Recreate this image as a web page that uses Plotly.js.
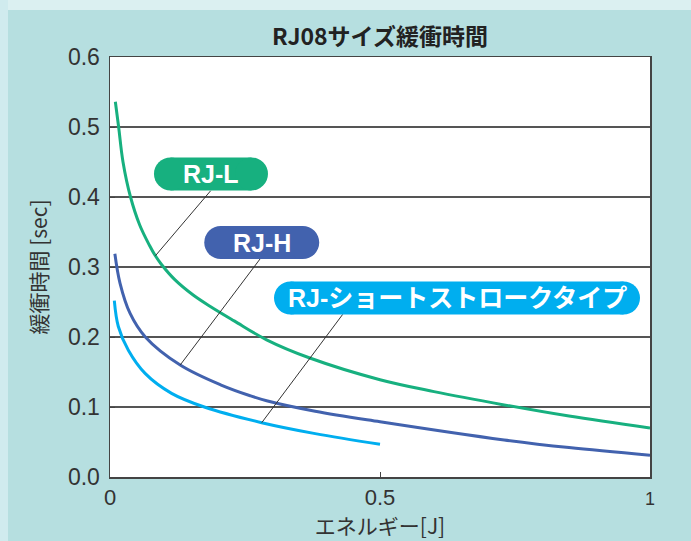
<!DOCTYPE html>
<html>
<head>
<meta charset="utf-8">
<script src="https://cdn.plot.ly/plotly-3.0.1.min.js"></script>
<style>
  html, body { margin: 0; padding: 0; background: #b8e0e1; }
  #chart { width: 691px; height: 541px; }
</style>
</head>
<body>
<div id="chart"></div>
<script>
// ---- data ----
const energyL = [0.0099, 0.016, 0.024, 0.038, 0.055, 0.073, 0.084, 0.095, 0.120, 0.154, 0.185, 0.23, 0.29, 0.37, 0.5, 0.6, 0.73, 0.85, 1.0];
const timeL   = [0.536, 0.500, 0.4505, 0.400, 0.360, 0.331, 0.316, 0.304, 0.282, 0.260, 0.244, 0.223, 0.196, 0.170, 0.139, 0.122, 0.103, 0.087, 0.070];

const energyH = [0.009, 0.0185, 0.037, 0.065, 0.13, 0.207, 0.26, 0.29, 0.38, 0.5, 0.73, 0.85, 1.0];
const timeH   = [0.319, 0.277, 0.234, 0.2005, 0.160, 0.131, 0.116, 0.109, 0.094, 0.079, 0.053, 0.042, 0.031];

const energyS = [0.008, 0.0154, 0.034, 0.065, 0.114, 0.176, 0.281, 0.38, 0.5];
const timeS   = [0.252, 0.215, 0.181, 0.148, 0.1195, 0.0996, 0.0776, 0.062, 0.0467];

const seriesNames = ['RJ-L', 'RJ-H', 'RJ-ショートストロークタイプ'];
const seriesColors = ['#17b07f', '#4262ae', '#00aeef'];

const xTickVals = [0, 0.5, 1];
const xTickText = ['0', '0.5', '<span style="font-size:18px">1</span>'];

const chartTitle = 'RJ08サイズ緩衝時間';
const xTitle = 'エネルギー[J]';
const yTitle = '緩衝時間 [sec]';

// label placement (data coords of the pill center, leader tail) and leader target index
const labelPos = [
  {x: 0.187, y: 0.433, w: 114, tailX: 0.1865, tailY: 0.409, idx: 6},
  {x: 0.281, y: 0.335, w: 115, tailX: 0.2778, tailY: 0.3114, idx: 4},
  {x: 0.6426, y: 0.2557, w: 366, tailX: 0.431, tailY: 0.2324, idx: 6}
];
const seriesX = [energyL, energyH, energyS];
const seriesY = [timeL, timeH, timeS];

const traces = seriesX.map((xs, i) => ({
  type: 'scatter', mode: 'lines', x: xs, y: seriesY[i], name: seriesNames[i],
  line: {color: seriesColors[i], width: 3, shape: 'spline', smoothing: 1},
  hoverinfo: 'skip'
}));

const shapes = [];
const annotations = [];
const R = 16.5;
labelPos.forEach((p, i) => {
  const c = seriesColors[i];
  shapes.push({type: 'line', xref: 'x', yref: 'y', x0: seriesX[i][p.idx], y0: seriesY[i][p.idx],
               x1: p.tailX, y1: p.tailY, line: {color: '#333', width: 1}, layer: 'above'});
  const half = p.w / 2;
  shapes.push({type: 'rect', xref: 'x', yref: 'y', xsizemode: 'pixel', ysizemode: 'pixel',
               xanchor: p.x, yanchor: p.y, x0: -half + R, x1: half - R, y0: -R, y1: R,
               fillcolor: c, line: {width: 0}, layer: 'above'});
  shapes.push({type: 'circle', xref: 'x', yref: 'y', xsizemode: 'pixel', ysizemode: 'pixel',
               xanchor: p.x, yanchor: p.y, x0: -half, x1: -half + 2 * R, y0: -R, y1: R,
               fillcolor: c, line: {width: 0}, layer: 'above'});
  shapes.push({type: 'circle', xref: 'x', yref: 'y', xsizemode: 'pixel', ysizemode: 'pixel',
               xanchor: p.x, yanchor: p.y, x0: half - 2 * R, x1: half, y0: -R, y1: R,
               fillcolor: c, line: {width: 0}, layer: 'above'});
  annotations.push({xref: 'x', yref: 'y', x: p.x, y: p.y, text: '<b>' + seriesNames[i] + '</b>',
                    showarrow: false, xanchor: 'center', yanchor: 'middle',
                    font: {family: 'Liberation Sans, Noto Sans CJK JP, sans-serif', size: 25, color: '#ffffff'}});
});

// lighter border strips of the background (outside the plot area)
shapes.push({type: 'rect', xref: 'paper', yref: 'paper', x0: -0.21, x1: 1.08, y0: 1.112, y1: 1.14,
             fillcolor: '#dbf0f1', line: {width: 0}, layer: 'below'});
shapes.push({type: 'rect', xref: 'paper', yref: 'paper', x0: -0.21, x1: -0.1889, y0: -0.16, y1: 1.14,
             fillcolor: '#d0ebee', line: {width: 0}, layer: 'below'});

const layout = {
  width: 691, height: 541,
  paper_bgcolor: '#b6dfe0',
  plot_bgcolor: '#ffffff',
  margin: {l: 110, r: 41, t: 57, b: 64},
  showlegend: false,
  title: {text: '<b>' + chartTitle + '</b>', x: 0.5, xref: 'paper', xanchor: 'center',
          y: 1 - 37 / 541, yref: 'container', yanchor: 'middle',
          font: {family: 'Noto Sans CJK JP, sans-serif', size: 23, color: '#222'}},
  xaxis: {
    range: [0, 1], tickvals: xTickVals, ticktext: xTickText,
    showgrid: false, zeroline: false,
    showline: true, mirror: true, linecolor: '#444', linewidth: 1.5,
    ticks: 'inside', ticklen: 5, tickcolor: '#444',
    tickfont: {family: 'Liberation Sans, sans-serif', size: 22, color: '#333'},
    title: {text: xTitle, standoff: 5, font: {family: 'Noto Sans CJK JP, sans-serif', size: 21, color: '#333'}}
  },
  yaxis: {
    range: [0, 0.6], dtick: 0.1, tickformat: '.1f',
    showgrid: true, gridcolor: '#555', gridwidth: 1.2, zeroline: false,
    showline: true, mirror: true, linecolor: '#444', linewidth: 1.5,
    ticks: 'inside', ticklen: 5, tickcolor: '#444',
    tickfont: {family: 'Liberation Sans, sans-serif', size: 23, color: '#333'},
    ticklabelstandoff: 4,
    title: {text: yTitle, standoff: 14, font: {family: 'Noto Sans CJK JP, sans-serif', size: 21, color: '#333'}}
  },
  shapes: shapes,
  annotations: annotations
};

Plotly.newPlot('chart', traces, layout, {displayModeBar: false, staticPlot: true});
</script>
</body>
</html>
